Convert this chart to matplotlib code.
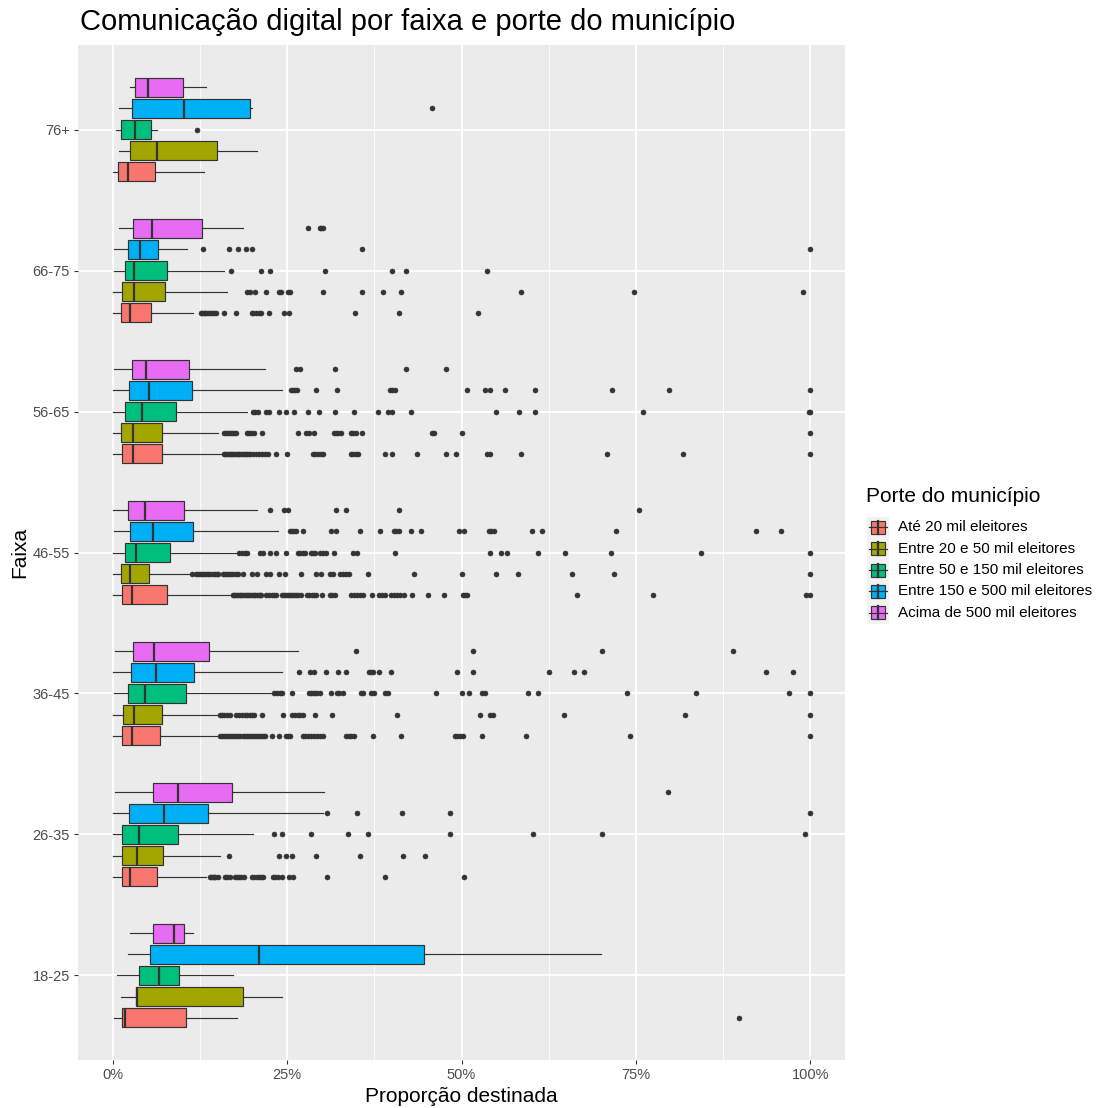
import matplotlib
matplotlib.use("Agg")
import matplotlib.pyplot as plt
from matplotlib.ticker import FixedLocator, PercentFormatter
from matplotlib.patches import Rectangle
from matplotlib.lines import Line2D

plt.rcParams['font.family'] = ['Liberation Sans', 'DejaVu Sans']

faixas = ["18-25", "26-35", "36-45", "46-55", "56-65", "66-75", "76+"]
portes = ["Até 20 mil eleitores", "Entre 20 e 50 mil eleitores",
          "Entre 50 e 150 mil eleitores", "Entre 150 e 500 mil eleitores",
          "Acima de 500 mil eleitores"]
cores = ["#F8766D", "#A3A500", "#00BF7D", "#00B0F6", "#E76BF3"]

# Box summaries in % : one row per porte, one column per faixa
whis_lo = [
    [0.14, 0.05, 0.05, 0.05, 0.05, 0.05, 0.05],
    [1.10, 0.05, 0.05, 0.05, 0.05, 0.05, 0.86],
    [0.56, 0.05, 0.20, 0.05, 0.05, 0.20, 0.43],
    [2.20, 0.05, 0.05, 0.20, 0.05, 0.20, 0.86],
    [2.43, 0.30, 0.30, 0.05, 0.20, 0.86, 2.40],
]
q1 = [
    [1.25, 1.30, 1.30, 1.30, 1.30, 1.15, 0.76],
    [3.33, 1.30, 1.43, 1.15, 1.15, 1.30, 2.50],
    [3.68, 1.30, 2.10, 1.70, 1.80, 1.70, 1.15],
    [5.28, 2.25, 2.60, 2.50, 2.25, 2.10, 2.80],
    [5.69, 5.80, 2.90, 2.10, 2.80, 2.87, 3.20],
]
mediana = [
    [1.67, 2.40, 2.80, 2.80, 2.95, 2.40, 2.15],
    [3.47, 3.40, 3.10, 2.40, 2.95, 3.10, 6.30],
    [6.67, 3.80, 4.65, 3.30, 4.15, 3.05, 3.20],
    [21.0, 7.35, 6.15, 5.70, 5.20, 3.90, 10.2],
    [8.82, 9.30, 5.90, 4.65, 4.80, 5.60, 5.10],
]
q3 = [
    [10.5, 6.35, 6.80, 7.80, 7.10, 5.40, 6.10],
    [18.7, 7.25, 7.00, 5.20, 7.10, 7.50, 14.9],
    [9.50, 9.40, 10.5, 8.20, 9.10, 7.70, 5.40],
    [44.6, 13.65, 11.6, 11.5, 11.4, 6.45, 19.6],
    [10.2, 17.1, 13.75, 10.2, 10.9, 12.8, 10.1],
]
whis_hi = [
    [17.8, 13.3, 15.0, 17.0, 15.6, 11.5, 13.1],
    [24.2, 15.3, 15.1, 11.1, 15.1, 16.4, 20.6],
    [17.3, 20.05, 22.7, 17.7, 19.2, 15.9, 6.4],
    [70.0, 30.2, 24.2, 23.7, 24.2, 10.7, 20.0],
    [11.5, 30.3, 26.6, 20.6, 21.8, 18.7, 13.3],
]

# Outliers (%), per faixa in the order of `faixas`
out_ate20 = [
    [89.8],
    [13.9, 14.1, 14.3, 14.5, 14.7, 15.1, 16.1, 16.4, 16.8, 17.5, 17.8, 18.1,
     18.4, 18.8, 20.0, 20.3, 20.6, 20.9, 21.2, 21.6, 23.0, 23.3, 23.7, 24.3,
     25.2, 25.8, 30.7, 39.0, 50.4],
    [15.3, 15.6, 15.9, 16.2, 16.5, 16.8, 17.1, 17.4, 17.7, 18.0, 18.3, 18.6,
     18.9, 19.2, 19.5, 19.8, 20.1, 20.4, 20.7, 21.0, 21.3, 21.6, 21.8, 22.8,
     23.8, 24.8, 25.1, 25.4, 27.2, 27.6, 28.0, 28.4, 28.9, 29.3, 29.7, 30.1,
     33.4, 33.8, 34.2, 34.6, 37.3, 41.3, 49.0, 49.4, 49.8, 50.2, 52.9, 59.2,
     74.1, 100.0],
    [17.2, 17.4, 17.7, 17.9, 18.2, 18.4, 18.7, 18.9, 19.2, 19.4, 19.7, 19.9,
     20.2, 20.4, 20.7, 20.9, 21.1, 21.3, 22.0, 22.4, 22.8, 23.1, 23.4, 24.2,
     24.5, 24.8, 25.1, 25.4, 25.7, 26.0, 26.3, 26.6, 27.0, 27.8, 28.2, 28.5,
     28.9, 29.2, 30.0, 31.1, 31.4, 31.8, 34.2, 34.6, 35.0, 35.5, 35.9, 37.1,
     38.1, 38.6, 39.1, 39.9, 40.3, 40.7, 41.2, 41.8, 42.9, 45.2, 47.5, 50.2,
     50.5, 50.8, 66.6, 77.5, 99.4, 100.0],
    [15.9, 16.1, 16.4, 16.6, 16.9, 17.1, 17.4, 17.6, 17.9, 18.1, 18.4, 18.6,
     18.9, 19.1, 19.4, 19.6, 20.1, 20.5, 20.9, 21.4, 21.8, 22.2, 23.4, 25.0,
     28.7, 29.0, 29.4, 29.8, 30.1, 34.2, 34.5, 34.8, 35.1, 39.0, 40.0, 43.6,
     47.8, 49.2, 53.6, 54.1, 58.5, 70.8, 81.8, 100.0],
    [12.6, 12.8, 13.0, 13.2, 13.4, 13.6, 13.9, 14.2, 14.5, 14.8, 15.9, 17.6,
     19.9, 20.1, 20.5, 20.9, 21.3, 22.4, 24.6, 25.3, 34.7, 41.0, 52.4],
    [],
]
out_20a50 = [
    [],
    [16.7, 23.8, 24.9, 25.7, 29.2, 35.5, 41.6, 44.8],
    [15.4, 15.7, 16.0, 16.4, 16.8, 17.7, 18.1, 18.5, 18.9, 19.3, 19.7, 20.0,
     20.3, 21.4, 24.4, 25.7, 26.1, 26.5, 26.9, 27.2, 29.0, 31.4, 40.7, 52.7,
     54.1, 54.5, 64.7, 82.1, 100.0],
    [11.3, 11.9, 12.2, 12.5, 12.8, 13.1, 13.4, 13.7, 14.0, 14.3, 14.6, 14.9,
     15.1, 15.8, 16.1, 16.4, 16.7, 17.0, 17.3, 17.6, 17.9, 18.7, 19.9, 20.6,
     22.0, 22.6, 23.8, 24.7, 27.0, 29.2, 29.8, 31.2, 31.5, 32.6, 33.0, 33.4,
     33.8, 36.6, 43.2, 50.0, 54.9, 58.1, 65.8, 71.8, 100.0],
    [15.9, 16.2, 16.5, 16.8, 17.1, 17.4, 17.6, 19.2, 19.5, 19.8, 20.3, 21.4,
     26.6, 27.7, 28.1, 28.8, 31.7, 32.0, 32.3, 32.7, 34.2, 34.5, 34.9, 35.8,
     45.8, 46.0, 50.0, 100.0],
    [19.3, 19.6, 20.4, 22.0, 23.8, 24.1, 25.1, 25.4, 30.1, 35.7, 38.7, 41.3,
     58.5, 74.7, 99.0],
    [],
]
out_50a150 = [
    [],
    [23.1, 24.2, 28.4, 33.7, 36.6, 48.4, 60.2, 70.1, 99.2],
    [23.1, 23.5, 23.9, 24.3, 25.7, 28.1, 28.4, 28.7, 29.0, 29.3, 29.7, 31.3,
     32.1, 32.5, 33.0, 35.6, 35.9, 37.0, 37.5, 39.1, 39.4, 46.4, 50.0, 51.1,
     53.0, 53.3, 59.5, 60.9, 73.8, 83.6, 97.0, 100.0],
    [18.1, 18.5, 18.9, 19.2, 21.1, 21.6, 22.6, 23.4, 24.8, 26.6, 26.9, 27.2,
     27.5, 28.4, 28.7, 29.0, 29.7, 30.1, 30.5, 31.7, 34.5, 35.0, 40.4, 54.1,
     55.7, 56.5, 61.0, 64.9, 71.4, 84.4, 100.0],
    [20.1, 20.4, 20.8, 21.9, 22.4, 23.8, 24.8, 26.0, 28.0, 29.6, 31.9, 34.6,
     38.0, 39.4, 40.0, 42.7, 54.9, 58.2, 60.5, 76.0, 99.8, 100.0],
    [16.95, 21.2, 22.5, 30.4, 40.0, 42.0, 53.7],
    [12.1],
]
out_150a500 = [
    [],
    [30.7, 35.0, 41.5, 48.3, 100.0],
    [26.7, 28.3, 28.9, 30.5, 32.3, 33.4, 36.7, 37.0, 37.3, 38.1, 39.9, 49.3,
     51.7, 62.6, 66.2, 67.5, 93.6, 97.6],
    [25.4, 25.7, 26.0, 26.3, 27.2, 31.3, 32.0, 35.4, 38.3, 40.3, 40.6, 41.0,
     42.8, 44.2, 49.7, 50.4, 54.0, 54.3, 54.7, 60.1, 61.6, 72.2, 92.2, 95.8],
    [25.5, 25.8, 26.1, 26.4, 29.2, 32.2, 39.8, 40.1, 40.5, 50.8, 53.3, 54.1,
     56.2, 60.5, 71.6, 79.8, 100.0],
    [12.9, 16.6, 17.9, 19.1, 19.9, 35.8, 100.0],
    [45.8],
]
out_acima500 = [
    [],
    [79.6],
    [34.9, 51.7, 70.2, 88.9],
    [22.6, 24.6, 25.1, 32.0, 33.4, 41.1, 75.5],
    [26.2, 26.9, 31.9, 42.0, 47.8],
    [28.0, 29.7, 29.9, 30.2],
    [],
]
outliers = [out_ate20, out_20a50, out_50a150, out_150a500, out_acima500]

W, H, DPI = 1096, 1108, 100
fig = plt.figure(figsize=(W / DPI, H / DPI), dpi=DPI)
fig.patch.set_facecolor("white")
ax = fig.add_axes([78 / W, 1 - 1060 / H, (845 - 78) / W, (1060 - 45) / H])
ax.set_facecolor("#EBEBEB")

dark = "#333333"
slot = 0.15
offsets = [-2 * slot, -slot, 0.0, slot, 2 * slot]

for p in range(len(portes)):
    stats = []
    for f in range(len(faixas)):
        stats.append(dict(whislo=whis_lo[p][f], q1=q1[p][f], med=mediana[p][f],
                          q3=q3[p][f], whishi=whis_hi[p][f],
                          fliers=outliers[p][f]))
    pos = [f + 1 + offsets[p] for f in range(len(faixas))]
    ax.bxp(stats, positions=pos, widths=slot * 0.9, orientation="horizontal",
           patch_artist=True, showcaps=False,
           boxprops=dict(facecolor=cores[p], edgecolor=dark, linewidth=0.85),
           medianprops=dict(color=dark, linewidth=1.6, solid_capstyle="butt"),
           whiskerprops=dict(color=dark, linewidth=0.85),
           flierprops=dict(marker="o", markerfacecolor=dark, markeredgecolor=dark,
                           markersize=3.6, markeredgewidth=0.4))

ax.set_xlim(-5, 105)
ax.set_ylim(0.4, 7.6)
ax.xaxis.set_major_locator(FixedLocator([0, 25, 50, 75, 100]))
ax.xaxis.set_minor_locator(FixedLocator([12.5, 37.5, 62.5, 87.5]))
ax.xaxis.set_major_formatter(PercentFormatter(xmax=100, decimals=0))
ax.set_yticks(range(1, len(faixas) + 1))
ax.set_yticklabels(faixas)
ax.grid(True, which="major", color="white", linewidth=1.3)
ax.grid(True, which="minor", axis="x", color="white", linewidth=0.6)
ax.set_axisbelow(True)
for s in ax.spines.values():
    s.set_visible(False)
ax.tick_params(axis="both", which="major", length=3.2, width=0.8, color=dark,
               labelsize=10.5, labelcolor="#4D4D4D", pad=2.5)
ax.tick_params(axis="x", which="minor", length=0)

fig.text(80 / W, 1 - 22 / H, "Comunicação digital por faixa e porte do município",
         fontsize=21, ha="left", va="center")
fig.text(461.5 / W, 1 - 1097 / H, "Proporção destinada", fontsize=15,
         ha="center", va="center")
fig.text(20 / W, 1 - 552 / H, "Faixa", fontsize=15, ha="center", va="center",
         rotation=90)

# Legend drawn in figure pixel coordinates
lg = fig.add_axes([0, 0, 1, 1], facecolor="none")
lg.set_xlim(0, W)
lg.set_ylim(H, 0)
lg.axis("off")
lg.text(866, 496, "Porte do município", fontsize=15, ha="left", va="center")
key_y0 = 516.5
key_h = 21.4
for i, (lab, cor) in enumerate(zip(portes, cores)):
    yc = key_y0 + key_h * i + key_h / 2
    lg.add_patch(Rectangle((867, yc - key_h / 2), 21.5, key_h,
                           facecolor="#F2F2F2", edgecolor="none"))
    lg.add_line(Line2D([868.5, 886.5], [yc, yc], color=dark, linewidth=0.85))
    lg.add_patch(Rectangle((870.5, yc - 6.5), 14, 13, facecolor=cor,
                           edgecolor=dark, linewidth=0.85))
    lg.add_line(Line2D([877.5, 877.5], [yc - 6.5, yc + 6.5], color=dark,
                       linewidth=1.6))
    lg.text(898, yc, lab, fontsize=11, ha="left", va="center")

fig.savefig("out.png", dpi=DPI)
